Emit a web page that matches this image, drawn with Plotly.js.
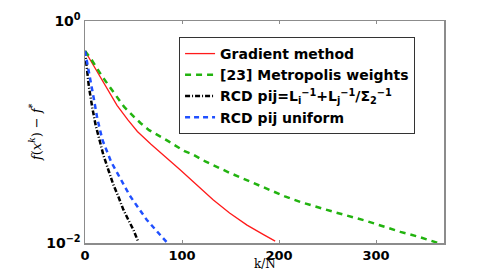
<!DOCTYPE html>
<html>
<head>
<meta charset="utf-8">
<script src="https://cdn.plot.ly/plotly-3.0.1.min.js"></script>
<style>html,body{margin:0;padding:0;background:#fff;}#chart{width:491px;height:273px;}</style>
</head>
<body>
<div id="chart"></div>
<script>
// Gradient method
const gradK = [0, 4, 13, 23, 33, 44, 54, 68, 78, 90, 98, 115, 132, 149, 167, 184, 196];
const gradF = [0.537, 0.468, 0.343, 0.243, 0.174, 0.129, 0.101, 0.0776, 0.0646, 0.0525, 0.0457, 0.0335, 0.0245, 0.0186, 0.0145, 0.0119, 0.0104];
// [23] Metropolis weights
const metK = [0, 5.8, 17.8, 31.6, 40.2, 50.5, 57.4, 66, 72.9, 79.7, 86.6, 95.1, 102, 110.6, 124, 149, 180, 206, 222, 242, 256, 290, 307, 325, 342, 364];
const metF = [0.537, 0.461, 0.316, 0.215, 0.169, 0.137, 0.120, 0.104, 0.0953, 0.0889, 0.0818, 0.0738, 0.0675, 0.0631, 0.0543, 0.0429, 0.0326, 0.0263, 0.0234, 0.0207, 0.0191, 0.0158, 0.0141, 0.0126, 0.0115, 0.0100];
// RCD pij = L_i^-1 + L_j^-1 / Sigma_2^-1
const rcdLK = [0, 2, 4, 7.5, 11, 15.5, 19, 24, 29, 34.3, 39.5, 44.6, 49.8, 55];
const rcdLF = [0.537, 0.372, 0.257, 0.166, 0.115, 0.0813, 0.0617, 0.0457, 0.0339, 0.0263, 0.0200, 0.0162, 0.0132, 0.0102];
// RCD pij uniform
const rcdUK = [0, 2, 5.8, 9.3, 12.7, 17.9, 27, 35, 46, 51.5, 63.6, 80.7, 85];
const rcdUF = [0.537, 0.437, 0.302, 0.195, 0.132, 0.0851, 0.0537, 0.0398, 0.0269, 0.0229, 0.0162, 0.0110, 0.0100];

const names = ['Gradient method', '[23] Metropolis weights',
  'RCD pij=L<sub>i</sub><sup>−1</sup>+L<sub>j</sub><sup>−1</sup>/Σ<sub>2</sub><sup>−1</sup>',
  'RCD pij uniform'];
const xTicks = [0, 100, 200, 300];
const yTickVals = [1, 0.01];
const yTickText = ['10<sup>0</sup>', '10<sup>−2</sup>'];
const xTitle = 'k/N';
const yTitle = '<i>f</i>(<i>x</i><sup><i>k</i></sup>) − <i>f</i><sup>*</sup>';

const traces = [
  {x: gradK, y: gradF, name: names[0], mode: 'lines', line: {color: '#ff1a1a', width: 1.3}},
  {x: metK, y: metF, name: names[1], mode: 'lines', line: {color: '#22b30f', width: 2.5, dash: '6px,5px'}},
  {x: rcdLK, y: rcdLF, name: names[2], mode: 'lines', line: {color: '#000000', width: 2.5, dash: '5px,2px,1px,2px'}},
  {x: rcdUK, y: rcdUF, name: names[3], mode: 'lines', line: {color: '#2050ff', width: 2.5, dash: '5px,4px'}}
];

const axisCommon = {
  showline: true, linecolor: '#8c8c8c', linewidth: 1.5, mirror: 'ticks',
  ticks: 'inside', ticklen: 3, tickcolor: '#8c8c8c', showgrid: false, zeroline: false,
  tickfont: {family: 'DejaVu Sans', size: 14, weight: 'bold', color: '#000'}
};

const layout = {
  width: 491, height: 273,
  margin: {l: 85, r: 47, t: 21, b: 30},
  paper_bgcolor: '#fff', plot_bgcolor: '#fff',
  showlegend: true,
  legend: {
    x: 0.262, y: 0.928, xanchor: 'left', yanchor: 'top',
    bgcolor: '#fff', bordercolor: '#333', borderwidth: 1,
    font: {family: 'DejaVu Sans', size: 14, weight: 'bold', color: '#000'},
    itemwidth: 30, tracegroupgap: 0
  },
  xaxis: Object.assign({}, axisCommon, {
    range: [0, 370], tickvals: xTicks, ticktext: xTicks.map(String),
    tickfont: {family: 'DejaVu Sans', size: 13, weight: 'bold', color: '#000'}
  }),
  yaxis: Object.assign({}, axisCommon, {
    type: 'log', range: [-2, 0], tickvals: yTickVals, ticktext: yTickText
  }),
  annotations: [
    {text: xTitle, xref: 'paper', yref: 'paper', x: 0.5, y: -0.1351, xanchor: 'center', yanchor: 'bottom',
     showarrow: false, font: {family: 'DejaVu Serif', size: 12, color: '#000'}},
    {text: yTitle, xref: 'paper', yref: 'paper', x: -0.139, y: 0.5, xanchor: 'center', yanchor: 'middle',
     textangle: -90, showarrow: false, font: {family: 'DejaVu Serif', size: 13, color: '#000'}}
  ]
};

Plotly.newPlot('chart', traces, layout, {displayModeBar: false, staticPlot: true});
</script>
</body>
</html>
